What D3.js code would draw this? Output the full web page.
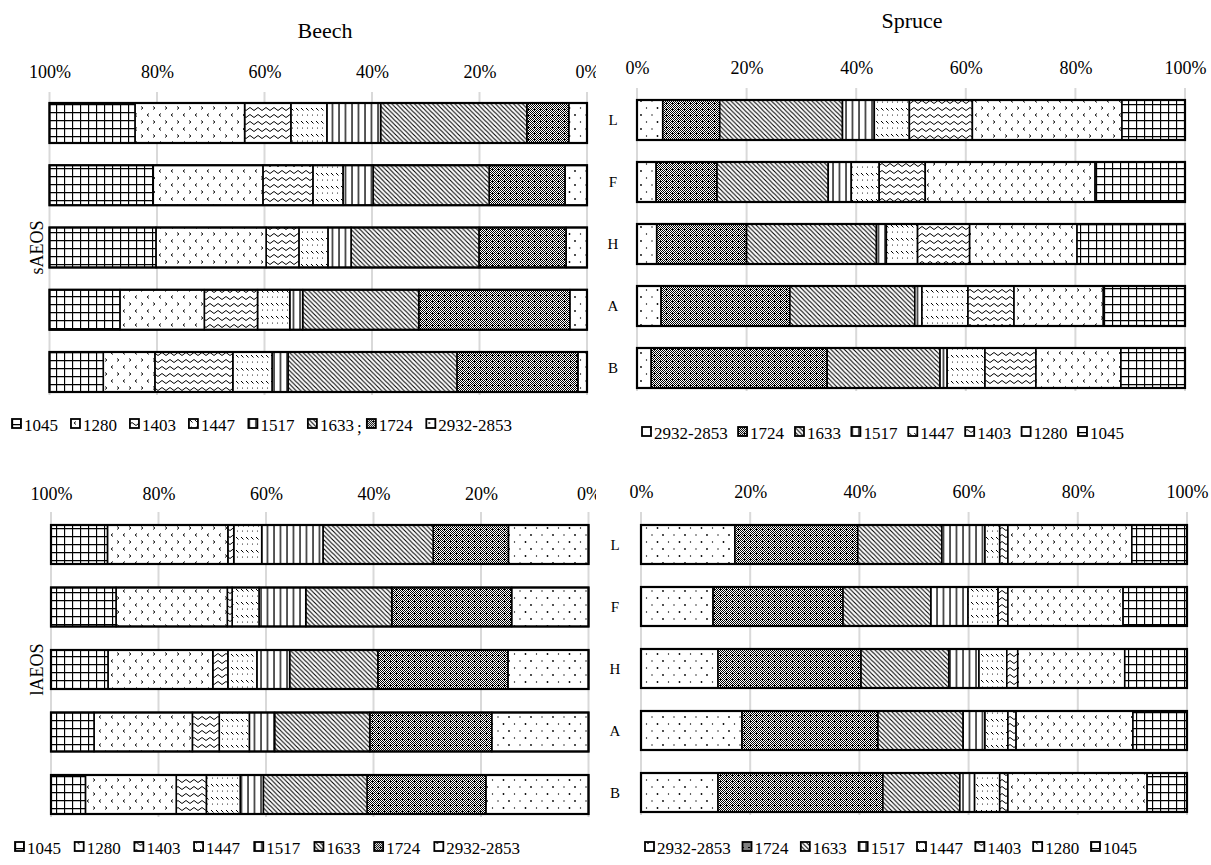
<!DOCTYPE html>
<html>
<head>
<meta charset="utf-8">
<script src="https://cdn.jsdelivr.net/npm/d3@7"></script>
<style>
  body { margin: 0; background: #fff; }
  text { font-family: "Liberation Serif", "Times New Roman", serif; fill: #000; }
</style>
</head>
<body>
<svg id="chart" width="1211" height="865"></svg>
<script>
// Absorption bands (cm-1), in stacking order from the 0% end of each bar
const series = ["2932-2853", "1724", "1633", "1517", "1447", "1403", "1280", "1045"];
const rowLabels = ["L", "F", "H", "A", "B"];
const tickValues = [0, 20, 40, 60, 80, 100];
const panelTitles = ["Beech", "Spruce"];
const sideLabels = ["sAEOS", "lAEOS"];

// Relative share (%) of each band, one row per sample, values in `series` order
const beechSAEOS = [
  [3.4, 7.8, 27.2, 10.0, 6.7, 8.6, 20.4, 15.9],
  [4.1, 14.1, 21.6, 5.6, 5.6, 9.3, 20.4, 19.3],
  [3.9, 16.2, 23.8, 4.3, 5.4, 6.1, 20.5, 19.8],
  [3.2, 28.1, 21.6, 2.4, 6.0, 9.9, 15.7, 13.1],
  [1.7, 22.5, 31.4, 3.0, 7.3, 14.5, 9.6, 10.0]
];
const spruceSAEOS = [
  [4.7, 10.4, 22.4, 5.8, 6.4, 11.5, 27.3, 11.5],
  [3.5, 11.1, 20.3, 4.2, 5.1, 8.4, 31.0, 16.4],
  [3.6, 16.4, 23.7, 1.8, 5.7, 9.5, 19.6, 19.7],
  [4.4, 23.5, 22.8, 1.3, 8.4, 8.4, 16.3, 14.9],
  [2.6, 32.1, 20.6, 1.3, 6.9, 9.3, 15.5, 11.7]
];
const beechLAEOS = [
  [14.9, 14.0, 20.5, 11.4, 5.2, 1.1, 22.4, 10.5],
  [14.3, 22.3, 16.0, 8.7, 5.0, 0.9, 20.7, 12.1],
  [15.0, 24.2, 16.4, 6.1, 5.4, 2.8, 19.5, 10.6],
  [18.0, 22.7, 17.7, 4.7, 5.6, 5.0, 18.3, 8.0],
  [19.1, 22.1, 19.3, 4.3, 6.3, 5.6, 16.9, 6.4]
];
const spruceLAEOS = [
  [17.2, 22.5, 15.4, 7.9, 2.7, 1.5, 22.7, 10.1],
  [13.2, 23.8, 16.1, 6.8, 5.5, 1.8, 21.1, 11.7],
  [14.1, 26.2, 16.1, 5.5, 5.1, 2.0, 19.6, 11.4],
  [18.5, 24.9, 15.6, 4.0, 4.2, 1.5, 21.4, 9.9],
  [14.1, 30.2, 14.1, 2.7, 4.6, 1.5, 25.5, 7.3]
];

const svg = d3.select("#chart");
const defs = svg.append("defs");

// ---- fill patterns, one per band ----
function addPattern(name, w, h, draw) {
  const p = defs.append("pattern")
    .attr("id", "pat-" + name)
    .attr("patternUnits", "userSpaceOnUse")
    .attr("width", w).attr("height", h);
  p.append("rect").attr("width", w).attr("height", h).attr("fill", "#fff");
  draw(p);
}
addPattern("2932-2853", 22, 14, p => {
  [[3, 3, 0.9], [14, 3, 0.7], [8.5, 10, 0.7], [19.5, 10, 0.9]].forEach(([cx, cy, r]) =>
    p.append("circle").attr("cx", cx).attr("cy", cy).attr("r", r).attr("fill", "#000"));
});
addPattern("1724", 6, 6, p => {
  for (let i = 0; i < 6; i++) for (let j = 0; j < 6; j++) {
    if ((i + j) % 2 === 0 || (i === 0 && j % 3 === 1))
      p.append("rect").attr("x", i).attr("y", j).attr("width", 1).attr("height", 1).attr("fill", "#000");
  }
});
addPattern("1633", 4.5, 4.5, p => {
  p.append("path").attr("d", "M0,0 L4.5,4.5 M-1,3.5 L1,5.5 M3.5,-1 L5.5,1")
    .attr("stroke", "#000").attr("stroke-width", 1.1);
});
addPattern("1517", 6.5, 10, p => {
  p.append("line").attr("x1", 1).attr("x2", 1).attr("y1", 0).attr("y2", 10)
    .attr("stroke", "#000").attr("stroke-width", 1.3);
});
addPattern("1447", 5, 13, p => {
  p.append("path").attr("d", "M1,4 L3.5,6.5").attr("stroke", "#000").attr("stroke-width", 1);
  p.append("circle").attr("cx", 2.5).attr("cy", 11).attr("r", 0.55).attr("fill", "#000");
});
addPattern("1403", 8, 7, p => {
  p.append("path").attr("d", "M0,4 Q2,1 4,4 T8,4").attr("fill", "none")
    .attr("stroke", "#000").attr("stroke-width", 1);
});
addPattern("1280", 12, 14, p => {
  p.append("path").attr("d", "M5,1.5 L3,3 L5,4.5 M9,8.5 L11,10 L9,11.5")
    .attr("fill", "none").attr("stroke", "#000").attr("stroke-width", 0.9);
});
addPattern("1045", 8, 8, p => {
  p.append("path").attr("d", "M0,0.5 H8 M0.5,0 V8").attr("stroke", "#000").attr("stroke-width", 1.3);
});

// ---- panel layout ----
const panels = [
  { data: beechSAEOS, reverse: true, xLeft: 49.5, xRight: 587, top: 103, step: 62.25, bar: 40,
    tickBase: 78, gridTop: 92, clipRight: 596, legendY: 425, legendX0: 12, legendX1: 512,
    title: panelTitles[0], titleX: 325, titleY: 38, side: sideLabels[0], sideX: 37, rowLabelX: null },
  { data: spruceSAEOS, reverse: false, xLeft: 637, xRight: 1185, top: 100, step: 62, bar: 40,
    tickBase: 74, gridTop: 88, clipRight: null, legendY: 433, legendX0: 642, legendX1: 1124,
    title: panelTitles[1], titleX: 912, titleY: 28, side: null, rowLabelX: 613 },
  { data: beechLAEOS, reverse: true, xLeft: 51, xRight: 588.5, top: 525, step: 62.5, bar: 39,
    tickBase: 500, gridTop: 512, clipRight: 596, legendY: 848, legendX0: 15, legendX1: 520,
    title: null, side: sideLabels[1], sideX: 37, rowLabelX: null },
  { data: spruceLAEOS, reverse: false, xLeft: 641, xRight: 1187, top: 525, step: 62, bar: 39,
    tickBase: 498, gridTop: 512, clipRight: null, legendY: 848, legendX0: 645, legendX1: 1137,
    title: null, side: null, rowLabelX: 615 }
];

panels.forEach((P, pi) => {
  const g = svg.append("g");
  const x = d3.scaleLinear().domain([0, 100])
    .range(P.reverse ? [P.xRight, P.xLeft] : [P.xLeft, P.xRight]);
  const y = d3.scaleBand().domain(rowLabels)
    .range([P.top, P.top + P.step * (rowLabels.length - 1) + P.bar])
    .paddingInner(1 - P.bar / P.step).paddingOuter(0);

  // gridlines
  g.append("g").selectAll("line").data(tickValues).join("line")
    .attr("x1", d => x(d)).attr("x2", d => x(d))
    .attr("y1", P.gridTop).attr("y2", y.range()[1] + 3)
    .attr("stroke", "#d9d9d9").attr("stroke-width", 2);

  // tick labels along the top (the Beech "0%" runs past the panel edge and is cut)
  const clipId = "clip-" + pi;
  if (P.clipRight) {
    defs.append("clipPath").attr("id", clipId).attr("clipPathUnits", "userSpaceOnUse")
      .append("rect").attr("x", 0).attr("y", -900).attr("width", P.clipRight).attr("height", 2000);
  }
  const axis = g.append("g").attr("transform", `translate(0,${P.tickBase})`)
    .call(d3.axisTop(x).tickValues(tickValues).tickFormat(d => d + "%").tickSize(0).tickPadding(0));
  axis.select(".domain").remove();
  axis.selectAll("text").attr("font-family", "Liberation Serif, serif")
    .attr("font-size", 18).attr("fill", "#000").attr("dy", 0).attr("y", 0);
  if (P.clipRight) axis.attr("clip-path", `url(#${clipId})`);

  // stacked bars
  const rows = P.data.map((vals, i) => {
    const o = { row: rowLabels[i] };
    series.forEach((s, k) => { o[s] = vals[k]; });
    return o;
  });
  const stacked = d3.stack().keys(series)(rows);
  const bars = g.append("g");
  stacked.forEach(layer => {
    bars.append("g").selectAll("rect").data(layer).join("rect")
      .attr("x", d => Math.min(x(d[0]), x(d[1])))
      .attr("width", d => Math.abs(x(d[1]) - x(d[0])))
      .attr("y", d => y(d.data.row))
      .attr("height", y.bandwidth())
      .attr("fill", `url(#pat-${layer.key})`)
      .attr("stroke", "#000").attr("stroke-width", 1.6);
  });
  bars.append("g").selectAll("rect").data(rows).join("rect")
    .attr("x", Math.min(x(0), x(100)))
    .attr("width", Math.abs(x(100) - x(0)))
    .attr("y", d => y(d.row)).attr("height", y.bandwidth())
    .attr("fill", "none").attr("stroke", "#000").attr("stroke-width", 2.2);

  // row labels
  if (P.rowLabelX) {
    g.append("g").selectAll("text").data(rowLabels).join("text")
      .attr("x", P.rowLabelX).attr("y", d => y(d) + y.bandwidth() / 2 + 5)
      .attr("text-anchor", "middle").attr("font-size", 15).attr("fill", "#333")
      .text(d => d);
  }

  // side label
  if (P.side) {
    const cy = (y.range()[0] + y.range()[1]) / 2;
    g.append("text").attr("transform", `translate(${P.sideX + 6},${cy}) rotate(-90)`)
      .attr("text-anchor", "middle").attr("font-size", 18).text(P.side);
  }

  // panel title
  if (P.title) {
    svg.append("text").attr("x", P.titleX).attr("y", P.titleY)
      .attr("text-anchor", "middle").attr("font-size", 22).text(P.title);
  }

  // legend: items ordered left to right as the segments appear
  const order = P.reverse ? series.slice().reverse() : series.slice();
  const lg = g.append("g");
  const items = lg.selectAll("g").data(order).join("g");
  items.append("rect").attr("width", 9).attr("height", 9).attr("y", P.legendY - 6)
    .attr("fill", d => `url(#pat-${d})`).attr("stroke", "#000").attr("stroke-width", 1.8);
  items.append("text").attr("x", 12).attr("y", P.legendY + 6).attr("font-size", 17)
    .text(d => d);
  const widths = [];
  items.each(function () { widths.push(this.getBBox().width); });
  const total = d3.sum(widths);
  const gap = (P.legendX1 - P.legendX0 - total) / (order.length - 1);
  let cx = P.legendX0;
  items.each(function (d, i) {
    d3.select(this).attr("transform", `translate(${cx},0)`);
    if (pi === 0 && d === "1633") {
      d3.select(this).append("text").attr("x", widths[i] + 3).attr("y", P.legendY + 8)
        .attr("font-size", 17).text(";");
    }
    cx += widths[i] + gap;
  });
});
</script>
</body>
</html>
